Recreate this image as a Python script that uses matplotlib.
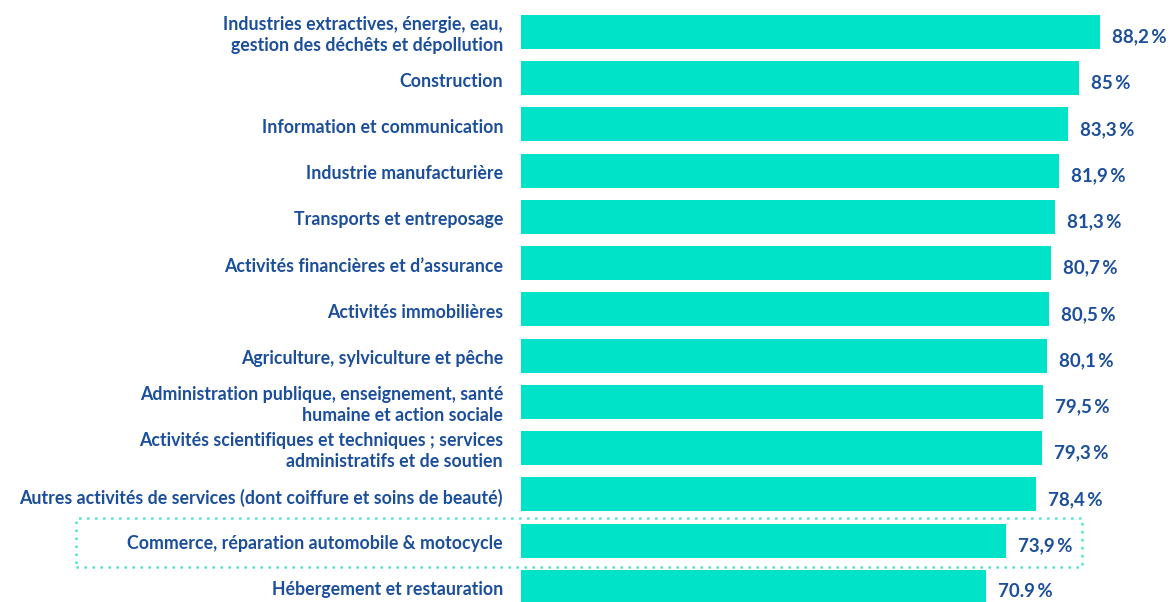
import matplotlib.pyplot as plt
from matplotlib.patches import Rectangle

categories = [
    "Industries extractives, énergie, eau,\ngestion des déchêts et dépollution",
    "Construction",
    "Information et communication",
    "Industrie manufacturière",
    "Transports et entreposage",
    "Activités financières et d\u2019assurance",
    "Activités immobilières",
    "Agriculture, sylviculture et pêche",
    "Administration publique, enseignement, santé\nhumaine et action sociale",
    "Activités scientifiques et techniques ; services\nadministratifs et de soutien",
    "Autres activités de services (dont coiffure et soins de beauté)",
    "Commerce, réparation automobile & motocycle",
    "Hébergement et restauration",
]
values = [88.2, 85, 83.3, 81.9, 81.3, 80.7, 80.5, 80.1, 79.5, 79.3, 78.4, 73.9, 70.9]
value_labels = ["88,2\u2009%", "85\u2009%", "83,3\u2009%", "81,9\u2009%", "81,3\u2009%", "80,7\u2009%",
                "80,5\u2009%", "80,1\u2009%", "79,5\u2009%", "79,3\u2009%", "78,4\u2009%", "73,9\u2009%", "70.9\u2009%"]

bar_color = "#00E3C8"
text_color = "#1B4E9B"
plt.rcParams['font.family'] = ['Lato', 'DejaVu Sans']

W, H = 1170, 602
fig = plt.figure(figsize=(W / 100, H / 100), dpi=100)
ax = fig.add_axes([521 / W, 0, (W - 521) / W, 1])

px_per_unit = 6.565
step = 46.25
ax.set_xlim(0, (W - 521) / px_per_unit)
ax.set_ylim((H - 32) / step, -32 / step)

ypos = list(range(len(values)))
ax.barh(ypos, values, height=34 / step, color=bar_color)

for y, v, lab, cat in zip(ypos, values, value_labels, categories):
    ax.text(v + 12 / px_per_unit, y + 5 / step, lab, ha="left", va="center",
            fontsize=13.5, color=text_color, fontweight="bold")
    ax.text(-18 / px_per_unit, y + 3 / step, cat, ha="right", va="center", fontsize=12.8,
            color=text_color, fontweight="bold", linespacing=1.3, clip_on=False)

# dotted highlight box
box = Rectangle((76, H - 567), 1082 - 76, 567 - 518, transform=None, fill=False,
                edgecolor="#4FE6D6", linestyle=(0, (1, 2.2)), linewidth=1.8, clip_on=False)
fig.patches.append(box)

ax.axis("off")
fig.savefig("out.png", dpi=100)
